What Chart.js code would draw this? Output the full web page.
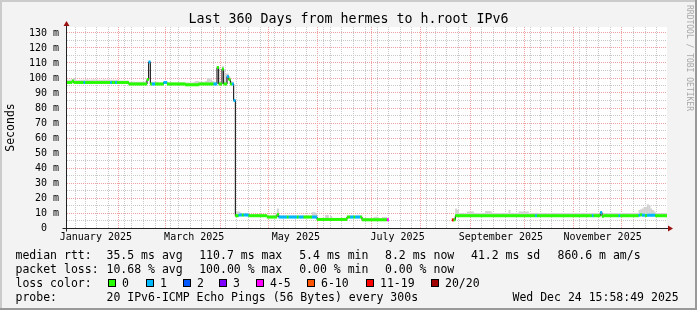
<!DOCTYPE html>
<html>
<head>
<meta charset="utf-8">
<script src="https://cdn.jsdelivr.net/npm/chart.js@4.4.1/dist/chart.umd.min.js"></script>
<style>
  body { margin: 0; background: #f3f3f3; }
  #wrap { position: relative; width: 697px; height: 310px; overflow: hidden;
          font-family: "DejaVu Sans Mono", monospace; }
  #wrap canvas { position: absolute; left: 0; top: 0; }
  .t { position: absolute; white-space: pre; font-size: 11.5px; line-height: 14px; color: #000; }
  .box { position: absolute; width: 6px; height: 6px; border: 1px solid #000; }
  #title { position: absolute; left: 0; top: 11.4px; width: 697px; text-align: center;
           font-size: 13.3px; line-height: 16px; white-space: pre; color: #000; }
  #mark { position: absolute; left: 694px; top: 5px; transform-origin: 0 0; transform: rotate(90deg);
          font-size: 8px; line-height: 10px; white-space: pre; color: #a8a8a8; }
</style>
</head>
<body>
<div id="wrap">
  <canvas id="c" width="697" height="310"></canvas>
  <div id="title">Last 360 Days from hermes to h.root IPv6</div>
  <div id="mark">RRDTOOL / TOBI OETIKER</div>
</div>
<script>
// one value per day, day 0 = 360 days before the graph end (Dec 24 2025 15:58:49)
const median = [
  97,97,97,98,97,97,97,97,97,97,97,97,97,97,97,97,97,97,97,97,
  97,97,97,97,97,97,97,97,97,97,97,97,97,97,97,97,97,96,96,96,
  96,96,96,96,96,96,96,96,99,110.7,96,96,96,96,96,96,96,96,97,97,
  96,96,96,96,96,96,96,96,96,96,96,95.5,95.5,95.5,95.5,95.5,95.5,95.5,95.5,96,
  96,96,96,96,96,96,96,96,96,96,107,96,96,106,96,96,101,99,96,96,
  85,8.2,8.2,8.6,8.7,8.6,8.7,8.7,8.6,8.2,8.2,8.2,8.2,8.2,8.2,8.2,8.2,8.2,8.2,8.2,
  7.3,7.3,7.3,7.3,7.3,7.3,9,7.3,7.3,7.3,7.3,7.3,7.3,7.3,7.3,7.3,7.3,7.3,7.3,7.3,
  7.3,7.3,7.3,7.3,7.3,7.3,7.3,7.3,7.3,7.3,5.7,5.7,5.7,5.7,5.7,5.7,5.7,5.7,5.7,5.7,
  5.7,5.7,5.7,5.7,5.7,5.7,5.7,5.7,7.3,7.3,7.3,7.3,7.3,7.3,7.3,7.3,7.3,5.5,5.5,5.5,
  5.5,5.5,5.5,5.5,5.5,5.5,5.5,5.5,5.5,5.5,5.5,5.5,5.5,null,null,null,null,null,null,null,
  null,null,null,null,null,null,null,null,null,null,null,null,null,null,null,null,null,null,null,null,
  null,null,null,null,null,null,null,null,null,null,null,5.4,5.5,8.2,8.2,8.2,8.2,8.2,8.2,8.2,
  8.2,8.2,8.2,8.2,8.2,8.2,8.2,8.2,8.2,8.2,8.2,8.2,8.2,8.2,8.2,8.2,8.2,8.2,8.2,8.2,
  8.2,8.2,8.2,8.2,8.2,8.2,8.2,8.2,8.2,8.2,8.2,8.2,8.2,8.2,8.2,8.2,8.2,8.2,8.2,8.2,
  8.2,8.2,8.2,8.2,8.2,8.2,8.2,8.2,8.2,8.2,8.2,8.2,8.2,8.2,8.2,8.2,8.2,8.2,8.2,8.2,
  8.2,8.2,8.2,8.2,8.2,8.2,8.2,8.2,8.2,8.2,8.2,8.2,8.2,8.2,8.2,8.2,8.2,8.2,8.2,8.2,
  10.3,7.8,8.2,8.2,8.2,8.2,8.2,8.2,8.2,8.2,8.2,8.2,8.2,8.2,8.2,8.2,8.2,8.2,8.2,8.2,
  8.2,8.2,8.2,8.5,8.8,8.5,8.5,8.3,8.5,8.5,8.5,8.5,8.5,8.2,8.2,8.2,8.2,8.2,8.2,8.2
];

// top of the grey smoke for each day
const smokeTop = [
  98.8,98.8,98.8,99.2,100,98.8,98.5,98.8,98.8,98.8,98.8,99,99,98.8,98.8,99,99,98.8,98.8,98.8,
  98.8,98.8,99,98.8,98.8,98.8,98.8,98.8,98.8,98.8,98.8,98.3,98.3,98.3,98.3,98.3,98.3,97.5,97.5,97.5,
  97.5,97.5,97.5,97.5,97.5,97.5,97.5,98,100,111,97.5,97.5,97.5,97.5,97.5,97,97,97,98,98,
  97,97,97,97,97,97,97,97,97,97,97,97,97,97,97,97,97.5,98,98,97.5,
  97.5,97.5,97.5,98,100,100,99,98,97.5,97.5,108,97.5,97.5,108,97.5,103,103,101,98,97.5,
  86,11,11,11,9.7,9.7,9.7,9.7,9.7,9,9,9,9,9,9,9,9,9,9,9,
  8.3,8.3,8.3,8.3,8.3,9,13,8.3,8.3,8.3,8.3,8.3,8.3,8.3,8.3,8.3,8.3,8.3,8.3,8.3,
  8.3,8.3,8.3,8.3,8.3,8.3,8.3,10.5,10.5,10,6.7,6.7,6.7,6.7,6.7,8.7,8.7,6.7,8,6.7,
  6.7,6.7,6.7,6.7,6.7,6.7,6.7,6.7,8.3,8.3,8.3,8.3,8.3,8.3,8.3,8.3,8.3,6.5,6.5,6.5,
  6.5,6.5,6.5,6.5,7.3,7.5,7.3,6.5,6.5,7.3,7.3,7.3,6.5,null,null,null,null,null,null,null,
  null,null,null,null,null,null,null,null,null,null,null,null,null,null,null,null,null,null,null,null,
  null,null,null,null,null,null,null,null,null,null,null,6,6.5,13,12,10,10,10,9.8,9.8,
  11,11,11,11,10,10,10,10,10,10,10,11.3,11.3,11.3,11,10,10,10,10,10,
  10,10,10,10,10,12,10,10,10,10,10,11,11,11,11,11,11,10,10,10,
  10,10,10,10,10,10,10,10,10,10,10,10,10,10,10,10,10,10,10,10,
  10,10,10,10,10,10,10,10,10,10,10,10,10,10,10,10,10,10,10,10,
  11,9.5,10,10,10,10,10,10,10,10,10,10,10,10,10,10,10,10,10,10,
  10,10,10,12,12.5,13,14,14,15.8,15,13,12,11,10,10,10,10,10,10,10
];

// loss class per day, index into lossLabels / lossColors
const loss = [
  0,0,0,0,0,0,0,0,0,0,1,0,0,0,0,0,0,0,0,0,
  0,0,0,0,0,0,1,0,0,1,0,0,0,0,0,0,0,0,0,0,
  0,0,0,0,0,0,0,0,0,1,0,1,1,0,0,0,0,0,1,1,
  0,0,0,0,0,0,0,0,0,0,0,0,0,0,0,0,0,0,0,0,
  0,0,0,0,0,0,0,0,1,1,0,0,0,0,0,0,1,0,0,1,
  1,0,0,1,1,0,1,1,1,0,0,0,0,0,0,0,0,0,0,0,
  0,0,0,0,0,0,0,1,1,1,1,1,0,1,1,1,1,1,0,1,
  1,1,0,0,0,0,0,1,1,1,0,0,0,0,0,0,0,0,0,0,
  0,0,0,0,0,0,0,0,0,0,1,1,0,1,1,1,0,0,0,0,
  0,0,0,0,0,0,0,0,0,0,0,0,4,0,0,0,0,0,0,0,
  0,0,0,0,0,0,0,0,0,0,0,0,0,0,0,0,0,0,0,0,
  0,0,0,0,0,0,0,0,0,0,0,6,0,0,0,0,0,0,0,0,
  0,0,0,0,0,0,0,0,0,0,0,0,0,0,0,0,0,0,0,0,
  0,0,0,0,0,0,0,0,0,0,0,0,0,0,0,0,0,0,0,0,
  0,1,0,0,0,0,0,0,0,0,0,0,0,0,0,0,0,0,0,0,
  0,0,0,0,0,0,0,0,0,0,0,0,0,0,0,1,0,0,0,0,
  1,0,0,0,0,0,0,0,0,0,0,1,0,0,0,0,0,0,0,0,
  0,0,0,1,0,1,1,0,1,1,1,1,1,0,0,0,0,0,0,0
];

const lossLabels = ['0', '1', '2', '3', '4-5', '6-10', '11-19', '20/20'];
const lossColors = ['#26ff00', '#00b8ff', '#0059ff', '#7e00ff', '#ff00ff', '#ff5500', '#ff0000', '#a00000'];

const yTickValues = [0, 10, 20, 30, 40, 50, 60, 70, 80, 90, 100, 110, 120, 130];
const yTickLabels = ['0  ', '10 m', '20 m', '30 m', '40 m', '50 m', '60 m', '70 m', '80 m', '90 m', '100 m', '110 m', '120 m', '130 m'];

const xLabelDates = ['2025-01-16', '2025-03-16', '2025-05-16', '2025-07-16', '2025-09-16', '2025-11-16'];
const xTickLabels = ['January 2025', 'March 2025', 'May 2025', 'July 2025', 'September 2025', 'November 2025'];
const monthStarts = ['2025-01-01', '2025-02-01', '2025-03-01', '2025-04-01', '2025-05-01', '2025-06-01',
                     '2025-07-01', '2025-08-01', '2025-09-01', '2025-10-01', '2025-11-01', '2025-12-01'];

const rttStats = ['35.5 ms avg', '110.7 ms max', '5.4 ms min', '8.2 ms now', '41.2 ms sd', '860.6 m am/s'];
const lossStats = ['10.68 % avg', '100.00 % max', '0.00 % min', '0.00 % now'];
const probeText = '20 IPv6-ICMP Echo Pings (56 Bytes) every 300s';
const stampText = 'Wed Dec 24 15:58:49 2025';

// time axis helpers (days since graph start)
const START = Date.UTC(2024, 11, 29, 15, 58, 49);
const dayOf = s => (Date.parse(s + 'T00:00:00Z') - START) / 86400000;
const majorDays = monthStarts.map(dayOf);
const minorDays = [];
for (let d = dayOf('2025-01-06'); d < 360; d += 7) {
  if (!majorDays.some(m => Math.abs(m - d) < 0.01)) minorDays.push(d);
}
const gridDays = majorDays.concat(minorDays).sort((a, b) => a - b);
const labelDays = xLabelDates.map(dayOf);

const MONO = '"DejaVu Sans Mono", monospace';
const RED = '#f4a0a0';
const GREY = '#c8c8c8';

// datasets
const days = median.map((v, i) => i).filter(i => median[i] !== null);
const lineData = median.map((v, i) => ({ x: i + 0.5, y: v }));
const smokeData = days.map(i => ({ x: i + 0.5, y: [median[i], smokeTop[i]] }));
const bandData = days.map(i => ({ x: i + 0.5, y: [median[i] - 1, median[i] + 1] }));
const bandColors = days.map(i => lossColors[loss[i]]);

const frame = {
  id: 'frame',
  beforeDraw(chart) {
    const { ctx, chartArea: a } = chart;
    ctx.save();
    ctx.fillStyle = '#f3f3f3';
    ctx.fillRect(0, 0, 697, 310);
    ctx.fillStyle = '#cbcbcb';
    ctx.fillRect(0, 0, 697, 2);
    ctx.fillRect(0, 0, 2, 310);
    ctx.fillStyle = '#999999';
    ctx.fillRect(0, 308, 697, 2);
    ctx.fillRect(695, 0, 2, 310);
    ctx.fillStyle = '#ffffff';
    ctx.fillRect(a.left, a.top, a.right - a.left, a.bottom - a.top);
    ctx.restore();
  },
  afterDatasetsDraw(chart) {
    const { ctx, chartArea: a, scales } = chart;
    const x0 = Math.floor(scales.x.getPixelForValue(0)) - 0.5;
    const y0 = Math.round(scales.y.getPixelForValue(0)) + 0.5;
    ctx.save();
    ctx.strokeStyle = '#222';
    ctx.lineWidth = 1;
    ctx.beginPath();
    ctx.moveTo(x0 - 4, y0);
    ctx.lineTo(a.right + 1, y0);
    ctx.moveTo(x0, y0 + 3);
    ctx.lineTo(x0, a.top - 1);
    ctx.stroke();
    ctx.fillStyle = '#9b1010';
    ctx.beginPath();
    ctx.moveTo(x0 - 3, a.top - 1);
    ctx.lineTo(x0 + 3, a.top - 1);
    ctx.lineTo(x0, a.top - 6);
    ctx.fill();
    ctx.beginPath();
    ctx.moveTo(a.right + 1, y0 - 3);
    ctx.lineTo(a.right + 1, y0 + 3);
    ctx.lineTo(a.right + 6, y0);
    ctx.fill();
    ctx.restore();
  }
};

new Chart(document.getElementById('c'), {
  type: 'line',
  data: {
    datasets: [
      { type: 'bar', label: 'smoke', data: smokeData, backgroundColor: '#d2d2d2', borderWidth: 0,
        grouped: false, categoryPercentage: 1, barPercentage: 1.2, order: 3 },
      { type: 'line', label: 'median', data: lineData, borderColor: '#000', borderWidth: 1,
        pointRadius: 0, stepped: 'middle', spanGaps: false, order: 2 },
      { type: 'bar', label: 'loss', data: bandData, backgroundColor: bandColors, borderWidth: 0,
        grouped: false, categoryPercentage: 1, barPercentage: 1.2, order: 1 }
    ]
  },
  options: {
    responsive: false,
    devicePixelRatio: 1,
    animation: false,
    events: [],
    layout: { padding: { top: 27, right: 30, left: 0, bottom: 0 } },
    plugins: { legend: { display: false }, title: { display: false }, tooltip: { enabled: false } },
    scales: {
      x: {
        type: 'linear', min: 0, max: 360, offset: false, position: 'bottom',
        afterBuildTicks: s => { s.ticks = gridDays.map(v => ({ value: v })); },
        afterFit: s => { s.height = 0; },
        ticks: { display: false },
        grid: {
          drawTicks: false, lineWidth: 1,
          color: c => (c.tick && majorDays.some(m => Math.abs(m - c.tick.value) < 0.01)) ? RED : GREY
        },
        border: { display: false, dash: [1, 1] }
      },
      xl: {
        type: 'linear', min: 0, max: 360, offset: false, position: 'bottom',
        afterBuildTicks: s => { s.ticks = labelDays.map(v => ({ value: v })); },
        afterFit: s => { s.height = 82; },
        grid: { display: false, drawTicks: false },
        border: { display: false },
        ticks: {
          autoSkip: false, maxRotation: 0, padding: 3.5, color: '#000',
          font: { family: MONO, size: 10 },
          callback: (v, i) => xTickLabels[i]
        }
      },
      y: {
        type: 'linear', min: 0, max: 134, position: 'left',
        afterBuildTicks: s => {
          const t = [];
          for (let v = 0; v <= 130; v += 5) t.push({ value: v });
          s.ticks = t;
        },
        afterFit: s => { s.width = 67; },
        grid: {
          drawTicks: false, lineWidth: 1,
          color: c => (c.tick && c.tick.value % 10 === 0) ? RED : GREY
        },
        border: { display: false, dash: [1, 1] },
        ticks: {
          autoSkip: false, padding: 8, color: '#000',
          font: { family: MONO, size: 10 },
          callback: v => {
            const k = yTickValues.indexOf(v);
            return k >= 0 ? yTickLabels[k] : '';
          }
        },
        title: {
          display: true, text: 'Seconds', color: '#000',
          font: { family: MONO, size: 11.5 },
          padding: { top: 4, bottom: 0 }
        }
      }
    }
  },
  plugins: [frame]
});

// legend below the graph
const wrap = document.getElementById('wrap');
function put(text, x, y) {
  const d = document.createElement('div');
  d.className = 't';
  d.textContent = text;
  d.style.left = x + 'px';
  d.style.top = y + 'px';
  wrap.appendChild(d);
}
const rowTop = [247.5, 261.5, 275.5, 289.5];
const statX = [106.5, 199.2, 299.2, 385, 471, 557.5];
const boxX = [108, 146, 183, 219, 256, 307, 366, 431];

put('median rtt:', 15.5, rowTop[0]);
rttStats.forEach((s, k) => put(s, statX[k], rowTop[0]));
put('packet loss:', 15.5, rowTop[1]);
lossStats.forEach((s, k) => put(s, statX[k], rowTop[1]));
put('loss color:', 15.5, rowTop[2]);
lossLabels.forEach((s, k) => {
  const b = document.createElement('div');
  b.className = 'box';
  b.style.left = boxX[k] + 'px';
  b.style.top = '278.5px';
  b.style.background = lossColors[k];
  wrap.appendChild(b);
  put(s, boxX[k] + 14, rowTop[2]);
});
put('probe:', 15.5, rowTop[3]);
put(probeText, 106.5, rowTop[3]);
put(stampText, 512.5, rowTop[3]);
</script>
</body>
</html>
